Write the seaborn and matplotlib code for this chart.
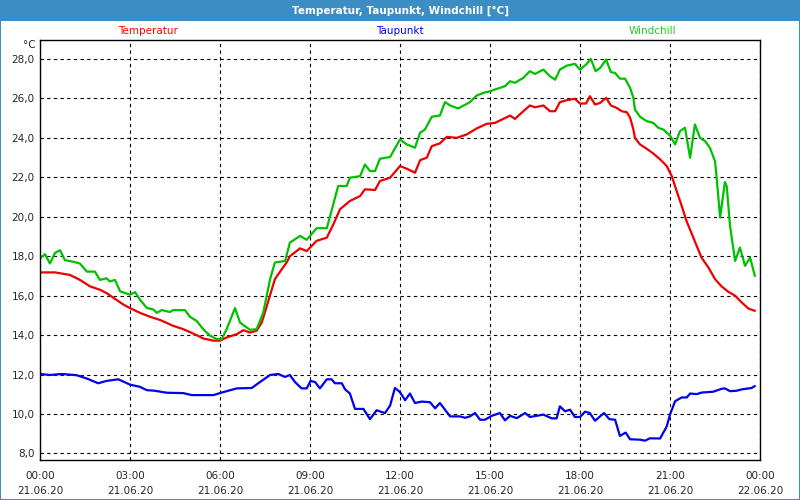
import numpy as np
import pandas as pd
import matplotlib
matplotlib.use("Agg")
import matplotlib.pyplot as plt
from matplotlib.patches import Rectangle
import seaborn as sns

# ---------- data (hours since 21.06.20 00:00, values in °C) ----------
temp_hours = [0.0, 0.5, 1.0, 1.33, 1.67, 2.0, 2.22, 2.44, 2.78, 3.0, 3.33, 3.67, 4.0, 4.44,
              4.78, 5.22, 5.44, 5.78, 6.0, 6.22, 6.56, 6.78, 7.0, 7.22, 7.39, 7.56, 7.83,
              8.06, 8.22, 8.33, 8.67, 8.89, 9.22, 9.56, 9.78, 10.0, 10.33, 10.67, 10.83,
              11.17, 11.33, 11.67, 12.0, 12.22, 12.5, 12.67, 12.89, 13.06, 13.33, 13.56,
              13.89, 14.22, 14.56, 14.89, 15.17, 15.44, 15.67, 15.83, 16.11, 16.33, 16.5,
              16.78, 17.0, 17.17, 17.33, 17.56, 17.83, 18.0, 18.2, 18.33, 18.5, 18.67,
              18.87, 19.03, 19.22, 19.39, 19.56, 19.67, 19.78, 19.83, 20.0, 20.22, 20.44,
              20.67, 20.89, 21.06, 21.22, 21.39, 21.55, 21.72, 21.89, 22.05, 22.28, 22.5,
              22.72, 22.94, 23.17, 23.39, 23.61, 23.83]
temp_values = [17.18, 17.18, 17.05, 16.8, 16.47, 16.3, 16.13, 15.9, 15.55, 15.37, 15.13, 14.93,
               14.77, 14.47, 14.3, 14.0, 13.83, 13.72, 13.72, 13.88, 14.05, 14.25, 14.13, 14.22,
               14.63, 15.47, 16.84, 17.34, 17.68, 18.0, 18.4, 18.26, 18.78, 18.94, 19.62,
               20.38, 20.8, 21.05, 21.39, 21.36, 21.81, 21.98, 22.57, 22.44, 22.23, 22.87,
               22.99, 23.58, 23.72, 24.05, 24.0, 24.17, 24.48, 24.71, 24.76, 24.96, 25.13,
               24.96, 25.35, 25.64, 25.55, 25.64, 25.35, 25.35, 25.81, 25.91, 25.98, 25.74,
               25.74, 26.11, 25.69, 25.77, 26.03, 25.64, 25.52, 25.35, 25.3, 25.02, 24.42,
               24.0, 23.67, 23.45, 23.21, 22.91, 22.57, 22.06, 21.31, 20.55, 19.79, 19.16,
               18.52, 17.93, 17.43, 16.84, 16.47, 16.2, 16.0, 15.66, 15.35, 15.23]

dew_hours = [0.0, 0.33, 0.72, 1.22, 1.56, 1.94, 2.22, 2.61, 3.0, 3.33, 3.56, 3.83, 4.22, 4.78,
             5.06, 5.78, 6.06, 6.56, 7.06, 7.33, 7.67, 7.94, 8.17, 8.33, 8.5, 8.72, 8.89,
             9.02, 9.17, 9.33, 9.56, 9.72, 9.83, 10.06, 10.17, 10.33, 10.5, 10.78, 11.0,
             11.22, 11.5, 11.67, 11.83, 12.0, 12.17, 12.33, 12.5, 12.72, 13.0, 13.17, 13.33,
             13.67, 14.0, 14.17, 14.33, 14.5, 14.67, 14.83, 15.06, 15.33, 15.5, 15.67, 15.89,
             16.17, 16.33, 16.78, 17.06, 17.22, 17.33, 17.5, 17.67, 17.83, 18.0, 18.17, 18.33,
             18.5, 18.8, 18.98, 19.17, 19.33, 19.52, 19.67, 20.0, 20.17, 20.33, 20.67, 20.89,
             21.0, 21.17, 21.39, 21.56, 21.67, 21.89, 22.06, 22.44, 22.72, 22.83, 23.0, 23.22,
             23.39, 23.72, 23.83]
dew_values = [12.03, 11.98, 12.03, 11.97, 11.8, 11.56, 11.68, 11.76, 11.49, 11.38, 11.21, 11.18,
              11.08, 11.06, 10.96, 10.96, 11.09, 11.3, 11.32, 11.62, 11.98, 12.03, 11.88, 11.98,
              11.62, 11.3, 11.3, 11.68, 11.62, 11.3, 11.76, 11.76, 11.56, 11.56, 11.25, 11.04,
              10.26, 10.26, 9.74, 10.19, 10.05, 10.43, 11.32, 11.11, 10.7, 11.04, 10.56, 10.63,
              10.6, 10.29, 10.56, 9.88, 9.88, 9.81, 9.88, 10.05, 9.71, 9.71, 9.91, 10.05, 9.68,
              9.91, 9.79, 10.05, 9.85, 9.97, 9.78, 9.78, 10.39, 10.14, 10.22, 9.85, 9.85, 10.12,
              10.05, 9.66, 10.05, 9.74, 9.71, 8.89, 9.06, 8.72, 8.7, 8.65, 8.77, 8.76, 9.37,
              9.97, 10.65, 10.84, 10.84, 11.04, 11.01, 11.09, 11.13, 11.28, 11.3, 11.16, 11.18,
              11.25, 11.32, 11.42]

chill_hours = [0.0, 0.17, 0.33, 0.5, 0.67, 0.83, 1.11, 1.33, 1.56, 1.83, 2.0, 2.22, 2.33, 2.5,
               2.67, 3.0, 3.17, 3.33, 3.56, 3.78, 3.89, 4.06, 4.33, 4.44, 4.83, 5.0, 5.22,
               5.44, 5.67, 5.89, 6.06, 6.22, 6.5, 6.67, 7.0, 7.22, 7.44, 7.67, 7.83, 8.17,
               8.33, 8.67, 8.89, 9.22, 9.56, 9.94, 10.22, 10.33, 10.67, 10.83, 11.0, 11.17,
               11.33, 11.67, 12.0, 12.22, 12.5, 12.67, 12.83, 13.06, 13.33, 13.5, 13.67, 13.94,
               14.33, 14.56, 14.78, 15.0, 15.22, 15.5, 15.67, 15.83, 16.11, 16.33, 16.5, 16.78,
               17.0, 17.17, 17.33, 17.56, 17.83, 18.0, 18.2, 18.36, 18.52, 18.67, 18.87, 19.03,
               19.17, 19.33, 19.5, 19.67, 19.78, 19.83, 20.0, 20.22, 20.44, 20.61, 20.78, 21.0,
               21.17, 21.33, 21.5, 21.67, 21.83, 22.0, 22.17, 22.33, 22.5, 22.55, 22.67, 22.83,
               22.89, 23.0, 23.17, 23.33, 23.5, 23.67, 23.83]
chill_values = [17.9, 18.1, 17.63, 18.17, 18.3, 17.8, 17.72, 17.63, 17.22, 17.22, 16.8, 16.88,
                16.72, 16.8, 16.22, 16.05, 16.18, 15.8, 15.38, 15.3, 15.13, 15.27, 15.17, 15.27,
                15.27, 14.93, 14.72, 14.3, 13.97, 13.8, 13.8, 14.3, 15.37, 14.63, 14.27, 14.3,
                15.13, 16.84, 17.68, 17.76, 18.69, 19.03, 18.83, 19.42, 19.42, 21.56, 21.56,
                21.98, 22.06, 22.65, 22.32, 22.32, 22.94, 23.03, 23.92, 23.67, 23.5, 24.26,
                24.42, 25.07, 25.13, 25.81, 25.64, 25.49, 25.81, 26.15, 26.28, 26.36, 26.48,
                26.62, 26.87, 26.79, 27.04, 27.38, 27.24, 27.46, 27.12, 26.95, 27.46, 27.66,
                27.75, 27.46, 27.71, 28.0, 27.38, 27.54, 27.97, 27.33, 27.29, 27.0, 27.0, 26.53,
                26.03, 25.44, 25.07, 24.85, 24.76, 24.51, 24.42, 24.12, 23.67, 24.34, 24.51,
                22.99, 24.68, 24.0, 23.83, 23.5, 22.82, 22.06, 19.96, 21.76, 21.56, 19.55,
                17.76, 18.44, 17.51, 17.93, 17.0]

tick_hours = list(range(0, 25, 3))
tick_labels = [f"{h % 24:02d}:00\n{'22.06.20' if h == 24 else '21.06.20'}" for h in tick_hours]
y_ticks = list(range(8, 29, 2))

# ---------- style ----------
sns.set_style("white")
plt.rcParams['font.family'] = ['DejaVu Sans']
plt.rcParams['font.size'] = 7.5

fig = plt.figure(figsize=(8, 5), dpi=100)
fig.patch.set_facecolor("white")
ax = fig.add_axes([40 / 800, 40 / 500, 720 / 800, 420 / 500])

sns.lineplot(x=temp_hours, y=temp_values, color="#ee0000", linewidth=1.6, ax=ax)
sns.lineplot(x=dew_hours, y=dew_values, color="#0000ee", linewidth=1.6, ax=ax)
sns.lineplot(x=chill_hours, y=chill_values, color="#00c000", linewidth=1.6, ax=ax)

ax.set_xlim(0, 24)
ax.set_ylim(7.67, 28.96)
ax.set_xticks(tick_hours)
ax.set_xticklabels(tick_labels, linespacing=1.6)
ax.set_xticks(range(0, 25), minor=True)
ax.set_yticks(y_ticks)
ax.set_yticklabels([f"{v},0" for v in y_ticks])
ax.tick_params(axis="x", which="both", direction="out", length=4, width=1, color="black", pad=4)
ax.tick_params(axis="y", length=0, pad=4)
ax.grid(True, color="black", linestyle=(0, (3, 3)), linewidth=0.8)
for s in ax.spines.values():
    s.set_color("black")
    s.set_linewidth(1)
ax.set_xlabel("")
ax.set_ylabel("")

# title bar and frame
fig.add_artist(Rectangle((0, 1 - 21 / 500), 1, 21 / 500, transform=fig.transFigure,
                         facecolor="#3c8dc4", edgecolor="none"))
fig.add_artist(Rectangle((0, 0), 1, 1, transform=fig.transFigure, fill=False,
                         edgecolor="#3c8dc4", linewidth=1.5))
fig.text(0.5, 1 - 10.5 / 500, "Temperatur, Taupunkt, Windchill [°C]", ha="center", va="center",
         color="white", fontweight="bold", fontsize=7.5)

# series labels
fig.text(148 / 800, 1 - 31 / 500, "Temperatur", color="#ff0000", ha="center", va="center")
fig.text(400 / 800, 1 - 31 / 500, "Taupunkt", color="#0000ff", ha="center", va="center")
fig.text(652 / 800, 1 - 31 / 500, "Windchill", color="#22cc22", ha="center", va="center")
fig.text(29 / 800, 1 - 45 / 500, "°C", ha="center", va="center")

fig.savefig("out.png", dpi=100)
